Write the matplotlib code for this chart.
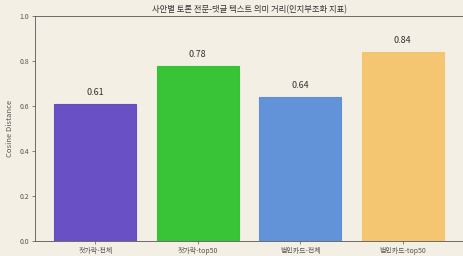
import matplotlib
matplotlib.use("Agg")
import matplotlib.pyplot as plt

categories = ["젓가락-전체", "젓가락-top50", "법인카드-전체", "법인카드-top50"]
values = [0.61, 0.78, 0.64, 0.84]
colors = ["#6148c4", "#2fc22f", "#5a8ed8", "#f4c46c"]
yticks = [0.0, 0.2, 0.4, 0.6, 0.8, 1.0]

plt.rcParams['font.family'] = ['Noto Sans CJK KR', 'DejaVu Sans']

bg = "#f4efe4"
fig = plt.figure(figsize=(4.63, 2.56), dpi=100, facecolor=bg)
ax = fig.add_axes([35/463, 15/256, 428/463, 225/256])
ax.set_facecolor(bg)

x = range(len(categories))
bars = ax.bar(x, values, width=0.8, color=colors, edgecolor=colors, linewidth=0.8, alpha=0.95)
for xi, v in zip(x, values):
    ax.text(xi, v + 0.03, f"{v:.2f}", ha="center", va="bottom", fontsize=6.5, color="#333333")

ax.set_ylim(0, 1.0)
ax.set_yticks(yticks)
ax.set_yticklabels([f"{t:.1f}" for t in yticks], fontsize=5, color="#555555")
ax.set_xticks(list(x))
ax.set_xticklabels(categories, fontsize=5, color="#444444")
ax.set_ylabel("Cosine Distance", fontsize=5.5, color="#555555", labelpad=4)
ax.set_title("사안별 토론 전문-댓글 텍스트 의미 거리(인지부조화 지표)", fontsize=6, color="#333333", pad=3)
ax.tick_params(axis="both", length=2, width=0.5, pad=2, colors="#555555")
for s in ax.spines.values():
    s.set_linewidth(0.6)
    s.set_color("#555555")

fig.savefig("out.png", dpi=100, facecolor=bg)
